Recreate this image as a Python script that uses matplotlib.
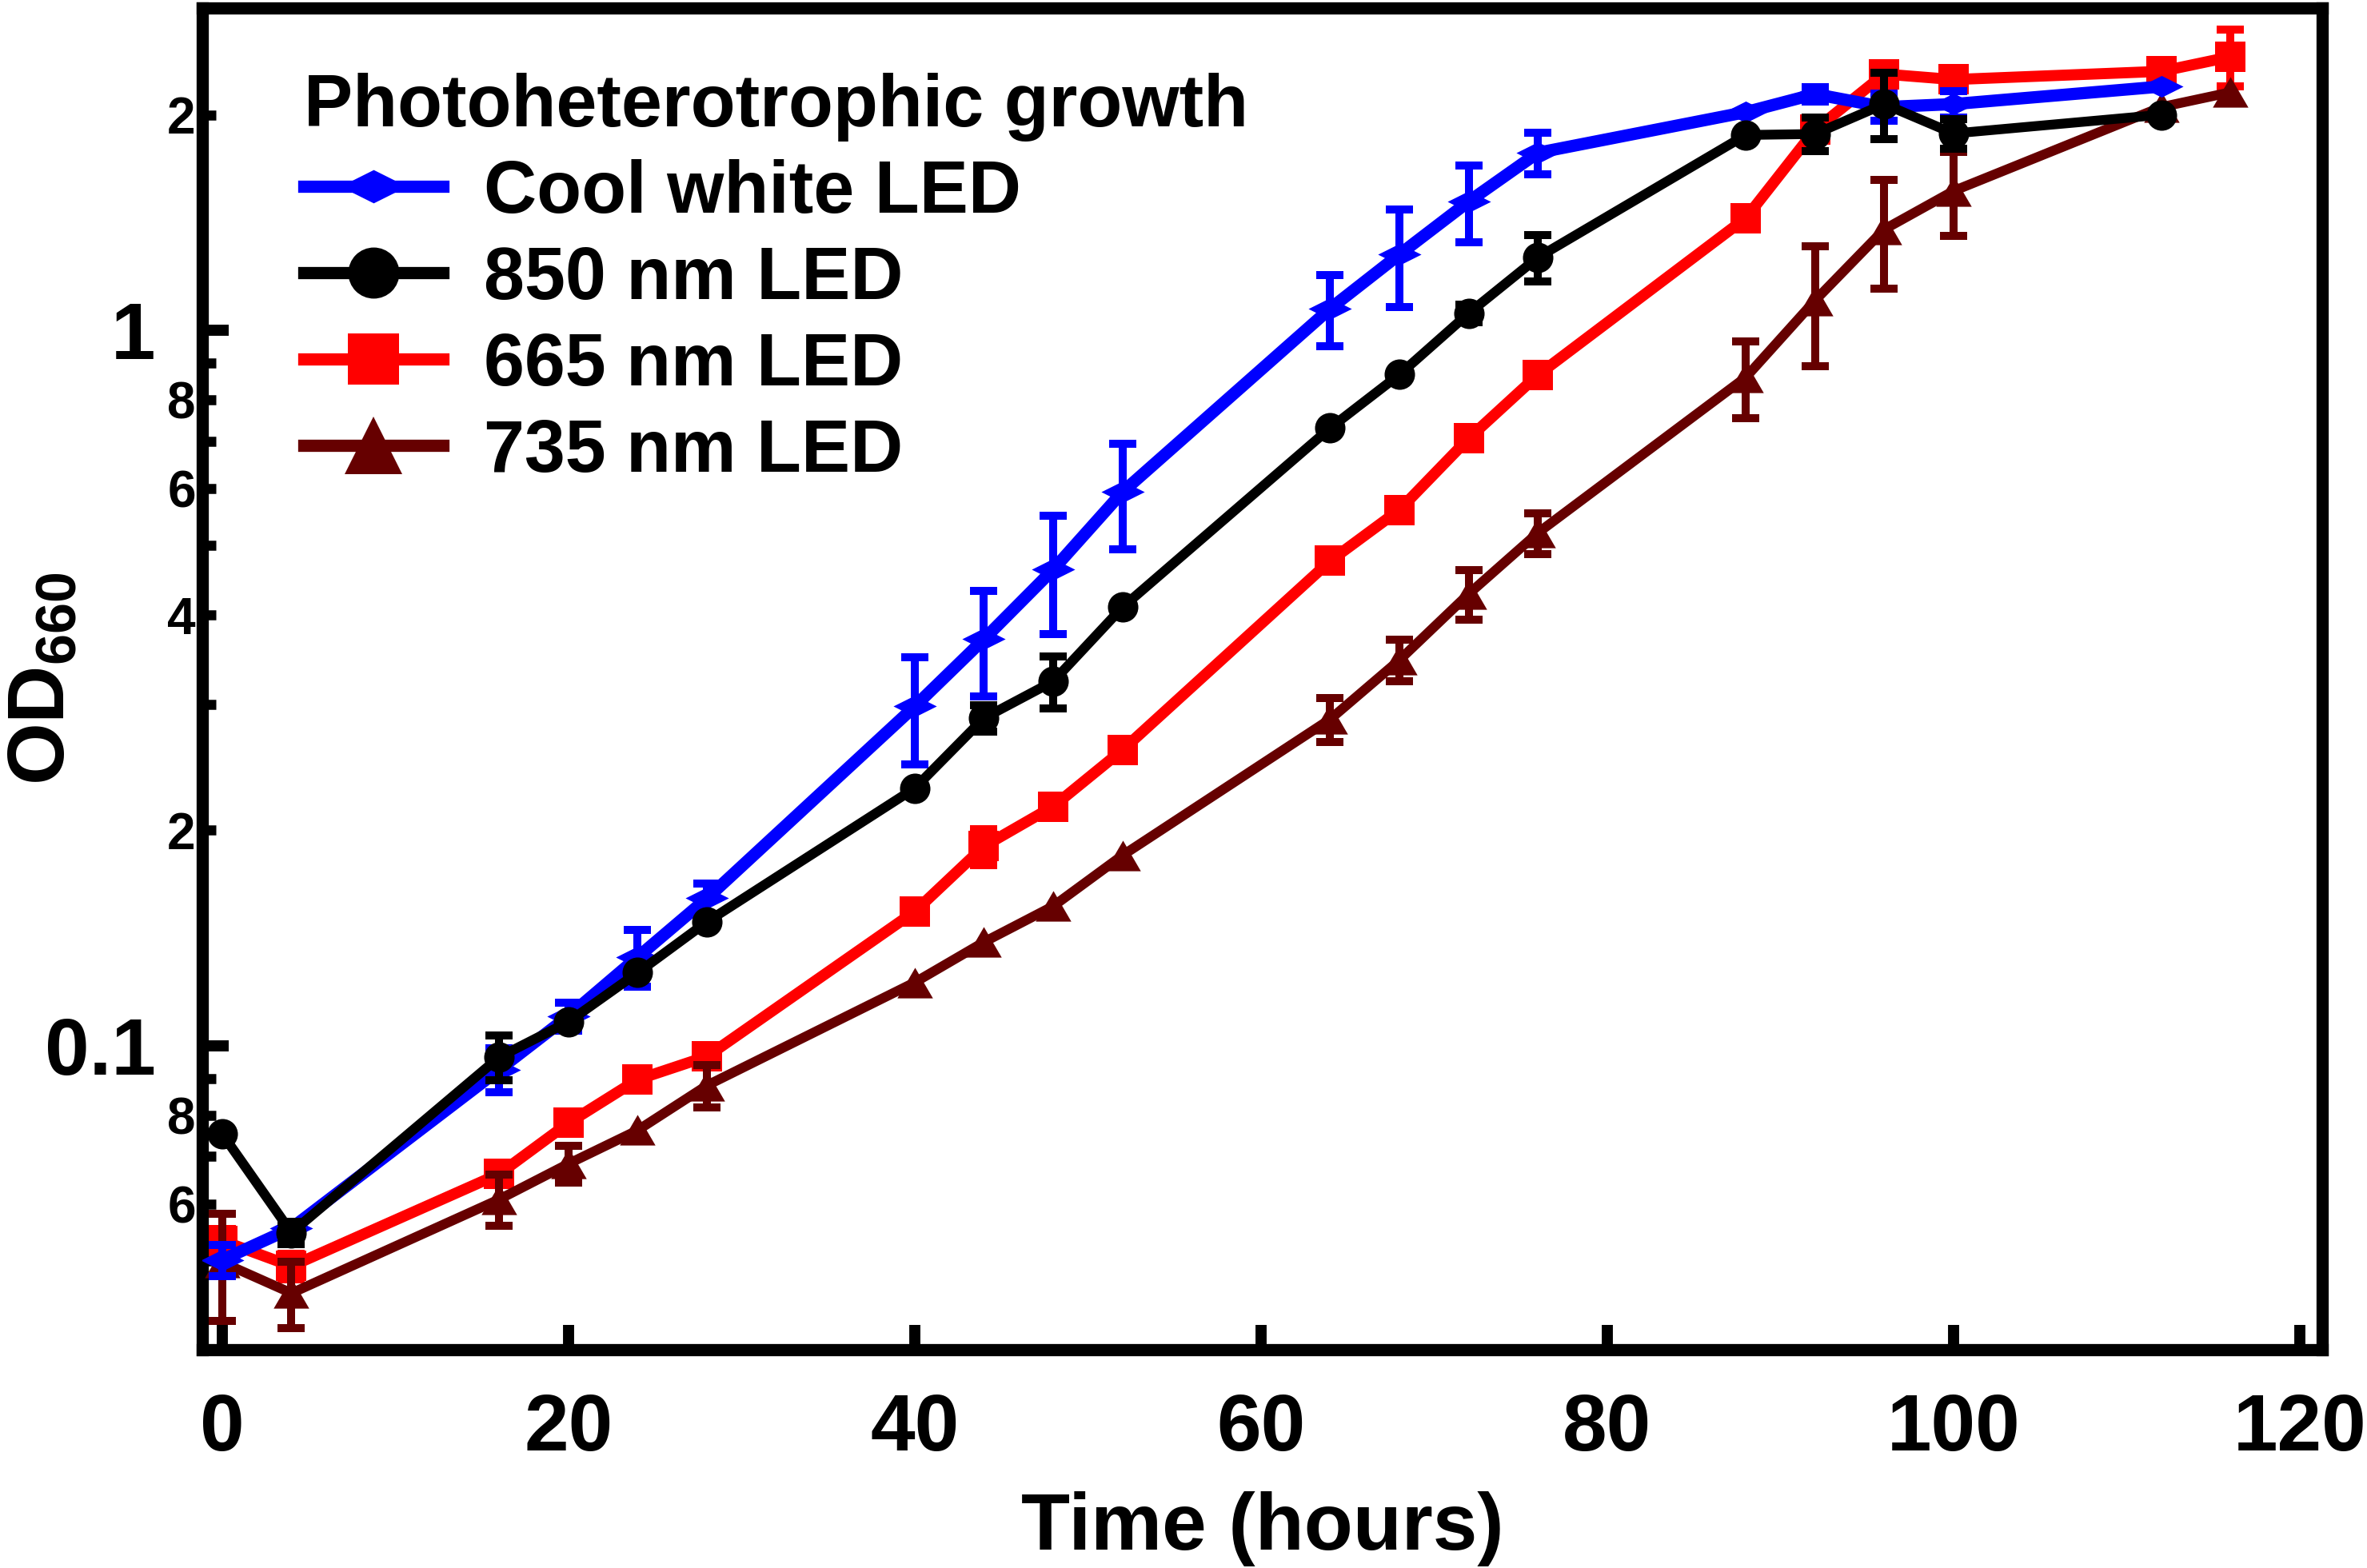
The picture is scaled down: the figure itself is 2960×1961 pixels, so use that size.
import numpy as np
import matplotlib.pyplot as plt
from matplotlib.ticker import FixedLocator, FixedFormatter
from matplotlib.lines import Line2D

plt.rcParams['font.family'] = ['Liberation Sans', 'DejaVu Sans']
plt.rcParams['font.weight'] = 'bold'
plt.rcParams['mathtext.fontset'] = 'custom'
plt.rcParams['mathtext.rm'] = 'Liberation Sans:bold'
plt.rcParams['mathtext.bf'] = 'Liberation Sans:bold'
plt.rcParams['mathtext.it'] = 'Liberation Sans:bold'

# sampling times (hours)
hours = [0, 4, 16, 20, 24, 28, 40, 44, 48, 52, 64, 68, 72, 76, 88, 92, 96, 100, 112, 116]

# OD660 readings, cool white LED and 850 nm stop at 112 h
white_od = [0.0502, 0.0556, 0.0926, 0.110, 0.133, 0.1607, 0.298, 0.370, 0.463, 0.594,
            1.072, 1.276, 1.513, 1.770, 2.017, 2.138, 2.050, 2.070, 2.190]
white_err = [0.0025, 0, 0.0065, 0.005, 0.012, 0.008, 0.051, 0.062, 0.087, 0.100,
             0.123, 0.200, 0.185, 0.120, 0, 0.050, 0.090, 0.090, 0]

nm850_od = [0.0753, 0.0548, 0.0964, 0.108, 0.1265, 0.149, 0.229, 0.287, 0.323, 0.410,
            0.730, 0.867, 1.056, 1.264, 1.874, 1.880, 2.070, 1.883, 2.000]
nm850_err = [0, 0.002, 0.007, 0, 0, 0, 0, 0.012, 0.027, 0,
             0, 0, 0.03, 0.095, 0, 0.100, 0.220, 0.090, 0]

nm665_od = [0.0534, 0.0492, 0.0662, 0.078, 0.0897, 0.0966, 0.154, 0.190, 0.216, 0.259,
            0.476, 0.561, 0.706, 0.866, 1.434, 1.905, 2.280, 2.240, 2.300, 2.410]
nm665_err = [0.002, 0.002, 0, 0.002, 0, 0, 0, 0.011, 0, 0,
             0, 0, 0, 0, 0, 0, 0, 0, 0, 0.220]

nm735_od = [0.0498, 0.0451, 0.061, 0.0684, 0.0762, 0.088, 0.1226, 0.1396, 0.1567, 0.1845,
            0.286, 0.346, 0.428, 0.521, 0.859, 1.100, 1.383, 1.565, 2.050, 2.150]
nm735_err = [0.0085, 0.0048, 0.005, 0.004, 0, 0.006, 0, 0, 0, 0,
             0.020, 0.023, 0.034, 0.034, 0.105, 0.210, 0.240, 0.210, 0, 0]

# Prism-style markers: flat diamond and squat triangle
wide_diamond = [(-1, 0), (0, 0.5), (1, 0), (0, -0.5), (-1, 0)]
squat_tri = [(0, 0.86), (1, -0.86), (-1, -0.86), (0, 0.86)]

fig = plt.figure(figsize=(14.8, 9.805), dpi=200)
ax = fig.add_axes([253/2960, 1 - 1688/1961, (2904 - 253)/2960, (1688 - 10)/1961])

def draw(t, y, err, color, marker, ms, lw, z):
    t = np.array(t, dtype=float)
    y = np.array(y)
    err = np.array(err)
    m = err > 0
    ax.errorbar(t[m], y[m], yerr=err[m], fmt='none', ecolor=color, elinewidth=3.6,
                capsize=6.2, capthick=3.6, zorder=z - 0.1)
    ax.plot(t, y, color=color, lw=lw, marker=marker, ms=ms, mew=0, zorder=z)

draw(hours, nm665_od, nm665_err, '#ff0000', 's', 13.7, 5.0, 2)
draw(hours, nm735_od, nm735_err, '#660000', squat_tri, 16, 4.4, 3)
draw(hours[:-1], white_od, white_err, '#0000ff', wide_diamond, 19.5, 5.5, 4)
draw(hours[:-1], nm850_od, nm850_err, '#000000', 'o', 13.7, 4.4, 5)

ax.set_yscale('log')
ax.set_xlim(-1.15, 121.3)
ax.set_ylim(0.0376, 2.82)

ax.set_xticks([0, 20, 40, 60, 80, 100, 120])
ax.tick_params(axis='x', which='major', direction='in', length=11, width=5,
               labelsize=36, pad=19)
ax.tick_params(axis='x', which='minor', bottom=False)

ax.yaxis.set_major_locator(FixedLocator([0.1, 1]))
ax.yaxis.set_major_formatter(FixedFormatter(['0.1', '1']))
minor_vals = [0.05, 0.06, 0.07, 0.08, 0.09, 0.2, 0.3, 0.4, 0.5, 0.6, 0.7, 0.8, 0.9, 2]
minor_labels = ['', '6', '', '8', '', '2', '', '4', '', '6', '', '8', '', '2']
ax.yaxis.set_minor_locator(FixedLocator(minor_vals))
ax.yaxis.set_minor_formatter(FixedFormatter(minor_labels))
ax.tick_params(axis='y', which='major', direction='in', length=12, width=5,
               labelsize=36, pad=21)
ax.tick_params(axis='y', which='minor', direction='in', length=6, width=4.5,
               labelsize=23, pad=3)

for s in ax.spines.values():
    s.set_linewidth(5.5)

ax.set_xlabel('Time (hours)', fontsize=36, fontweight='bold', labelpad=11)
ax.set_ylabel(r'OD$_{660}$', fontsize=36, fontweight='bold')
ax.yaxis.set_label_coords(-0.057, 0.5)

handles = [
    Line2D([], [], color='#0000ff', lw=5.5, marker=wide_diamond, ms=30, mew=0),
    Line2D([], [], color='#000000', lw=5.5, marker='o', ms=23, mew=0),
    Line2D([], [], color='#ff0000', lw=5.5, marker='s', ms=23, mew=0),
    Line2D([], [], color='#660000', lw=5.5, marker='^', ms=26, mew=0),
]
labels = ['Cool white LED', '850 nm LED', '665 nm LED', '735 nm LED']
leg = ax.legend(handles, labels, loc='upper left', bbox_to_anchor=(0.048, 0.952),
                frameon=False, fontsize=33, title='Photoheterotrophic growth',
                title_fontproperties={'weight': 'bold', 'size': 33},
                alignment='left', handlelength=1.9, handletextpad=0.55,
                labelspacing=0.24, borderpad=0, borderaxespad=0)
leg.set_zorder(10)

fig.savefig('out.png', dpi=200)
